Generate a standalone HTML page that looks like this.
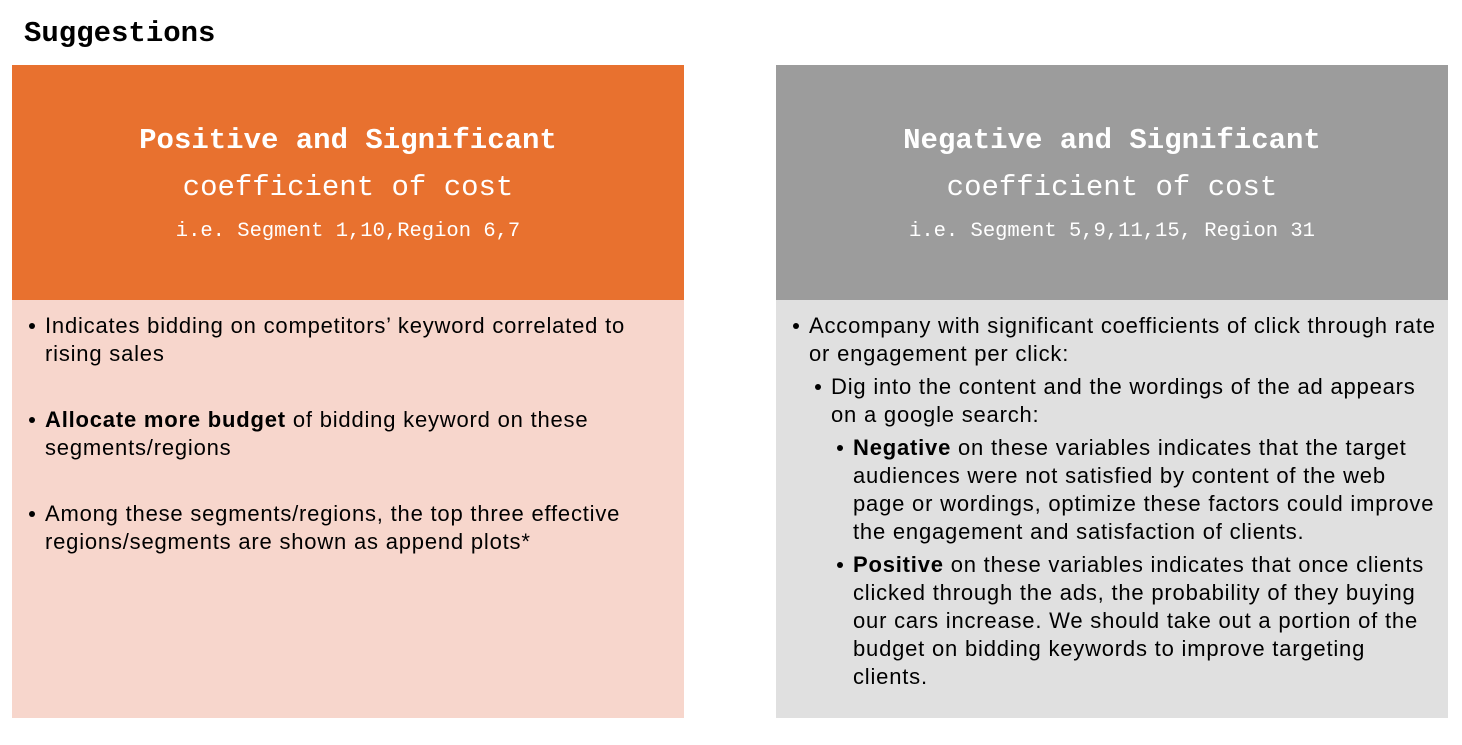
<!DOCTYPE html>
<html><head><meta charset="utf-8">
<style>
html,body{margin:0;padding:0;background:#fff;}
body{width:1462px;height:745px;position:relative;overflow:hidden;}
.abs{position:absolute;}
.mono{font-family:"Liberation Mono",monospace;color:#fff;white-space:nowrap;text-align:center;}
.t{position:absolute;font-family:"Liberation Sans",sans-serif;font-size:22px;letter-spacing:0.8px;color:#000;white-space:nowrap;line-height:28px;}
.b{position:absolute;width:6px;height:6px;border-radius:50%;background:#000;}
</style></head><body>
<div class="abs mono" style="left:24px;top:17px;font-size:29px;font-weight:bold;color:#000;text-align:left;">Suggestions</div>

<div class="abs" style="left:12px;top:65px;width:672px;height:235px;background:#E8712F;"></div>
<div class="abs" style="left:12px;top:300px;width:672px;height:418px;background:#F7D6CC;"></div>
<div class="abs" style="left:776px;top:65px;width:672px;height:235px;background:#9C9C9C;"></div>
<div class="abs" style="left:776px;top:300px;width:672px;height:418px;background:#E0E0E0;"></div>

<div class="abs mono" style="left:12px;width:672px;top:124px;font-size:29px;font-weight:bold;">Positive and Significant</div>
<div class="abs mono" style="left:12px;width:672px;top:171px;font-size:29px;">coefficient of cost</div>
<div class="abs mono" style="left:12px;width:672px;top:220px;font-size:20.5px;">i.e. Segment 1,10,Region 6,7</div>

<div class="abs mono" style="left:776px;width:672px;top:124px;font-size:29px;font-weight:bold;">Negative and Significant</div>
<div class="abs mono" style="left:776px;width:672px;top:171px;font-size:29px;">coefficient of cost</div>
<div class="abs mono" style="left:776px;width:672px;top:220px;font-size:20.5px;">i.e. Segment 5,9,11,15, Region 31</div>

<div class="b" style="left:29px;top:323px"></div>
<div class="t" style="left:45px;top:312px">Indicates bidding on competitors’ keyword correlated to<br>rising sales</div>
<div class="b" style="left:29px;top:417px"></div>
<div class="t" style="left:45px;top:406px"><b>Allocate more budget</b> of bidding keyword on these<br>segments/regions</div>
<div class="b" style="left:29px;top:511px"></div>
<div class="t" style="left:45px;top:500px">Among these segments/regions, the top three effective<br>regions/segments are shown as append plots*</div>

<div class="b" style="left:793px;top:323px"></div>
<div class="t" style="left:809px;top:312px">Accompany with significant coefficients of click through rate<br>or engagement per click:</div>
<div class="b" style="left:815px;top:384px"></div>
<div class="t" style="left:831px;top:373px">Dig into the content and the wordings of the ad appears<br>on a google search:</div>
<div class="b" style="left:837px;top:445px"></div>
<div class="t" style="left:853px;top:434px"><b>Negative</b> on these variables indicates that the target<br>audiences were not satisfied by content of the web<br>page or wordings, optimize these factors could improve<br>the engagement and satisfaction of clients.</div>
<div class="b" style="left:837px;top:562px"></div>
<div class="t" style="left:853px;top:551px"><b>Positive</b> on these variables indicates that once clients<br>clicked through the ads, the probability of they buying<br>our cars increase. We should take out a portion of the<br>budget on bidding keywords to improve targeting<br>clients.</div>
</body></html>
